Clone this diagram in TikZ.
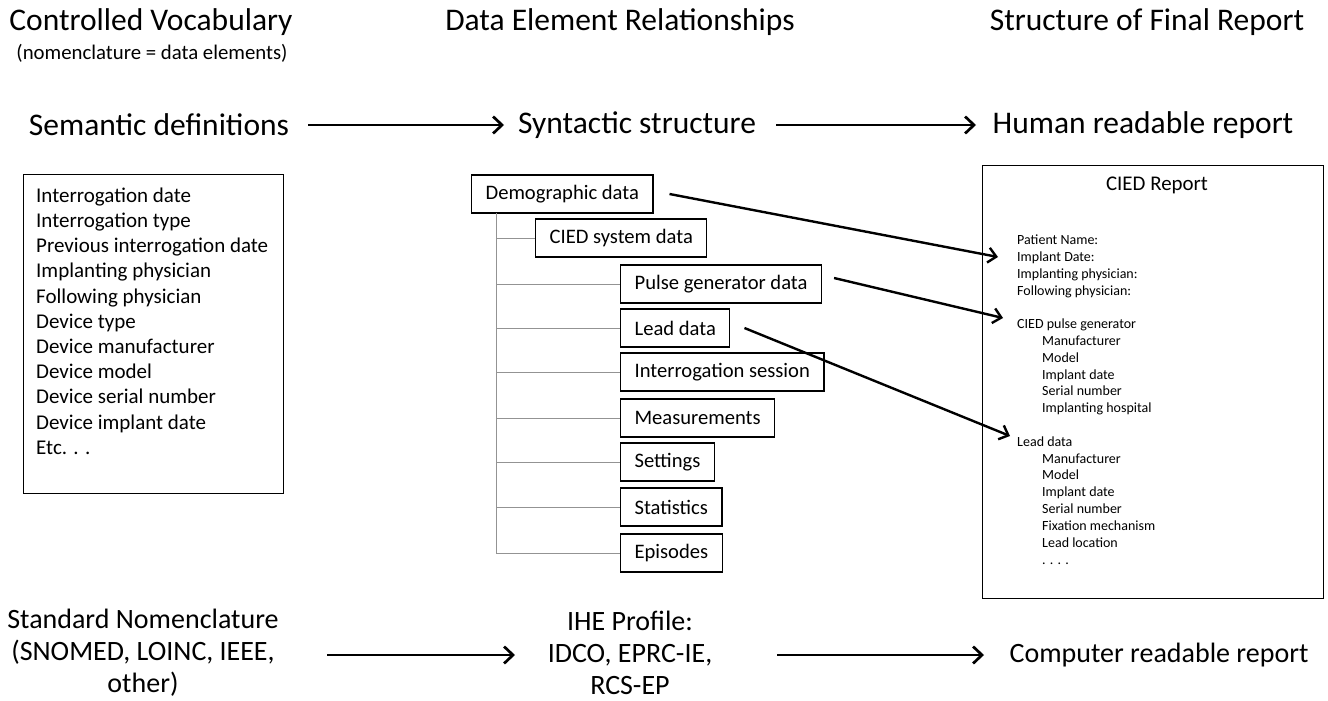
\documentclass[tikz,border=0pt]{standalone}
\usepackage{fontspec}
\setmainfont{Carlito}
\usetikzlibrary{arrows.meta}

\tikzset{
  big/.style={font=\fontsize{31.5}{34}\selectfont, inner sep=0pt, align=center},
  lower/.style={font=\fontsize{28}{32}\selectfont, inner sep=0pt, align=center},
  small/.style={font=\fontsize{20.8}{24}\selectfont, inner sep=0pt},
  flow/.style={line width=2.7pt, -{Straight Barb[length=9pt,width=17pt,line width=2.7pt]}},
  link/.style={line width=2.4pt, -{Straight Barb[length=8pt,width=15pt,line width=2.4pt]}},
  treebox/.style={draw, line width=1.2pt, anchor=west, minimum height=38pt, inner xsep=14pt,
                  font=\fontsize{20.6}{24}\selectfont},
  branch/.style={draw=gray!85, line width=1pt},
  panel/.style={draw, line width=1.2pt, anchor=north west},
  rline/.style={anchor=base west, inner sep=0pt, font=\fontsize{14}{16}\selectfont},
}

\begin{document}
\begin{tikzpicture}[x=1pt, y=-1pt]
\useasboundingbox (0,0) rectangle (1328,701);

% column headings
\node[big] (hVocab) at (151,22) {Controlled Vocabulary};
\node[small] (hNom) at (152,53) {(nomenclature = data elements)};
\node[big] (hRel) at (620,22) {Data Element Relationships};
\node[big] (hFinal) at (1147,22) {Structure of Final Report};

% semantic / syntactic / human readable row
\node[big] (sem) at (159,125) {Semantic definitions};
\node[big] (syn) at (637,125) {Syntactic structure};
\node[big] (hum) at (1143,125) {Human readable report};
\coordinate (f1s) at (308,125);
\coordinate (f1e) at (504,125);
\coordinate (f2s) at (776,125);
\coordinate (f2e) at (976,125);
\draw[flow] (f1s) -- (f1e);
\draw[flow] (f2s) -- (f2e);

% vocabulary list
\node[panel, minimum width=260pt, minimum height=319pt] (vocab) at (23,174) {};
\node[anchor=north west, inner sep=0pt, align=left, font=\fontsize{21}{25.2}\selectfont]
  (vocabtext) at (36,187.5) {Interrogation date\\Interrogation type\\Previous interrogation date\\
  Implanting physician\\Following physician\\Device type\\Device manufacturer\\Device model\\
  Device serial number\\Device implant date\\Etc. . .};

% data element tree
\node[treebox] (dem) at (471,194) {Demographic data};
\node[treebox] (sys) at (535,238) {CIED system data};
\node[treebox] (pg)  at (620,284) {Pulse generator data};
\node[treebox] (lead) at (620,328) {Lead data};
\node[treebox] (sess) at (620,372) {Interrogation session};
\node[treebox] (meas) at (620,418) {Measurements};
\node[treebox] (set) at (620,462) {Settings};
\node[treebox] (stat) at (620,507) {Statistics};
\node[treebox] (epi) at (620,553) {Episodes};

\coordinate (trunkTop) at (496,213);
\coordinate (trunkEnd) at (496,553);
\draw[branch] (trunkTop) -- (trunkEnd) -- (epi.west);
\foreach \b in {sys,pg,lead,sess,meas,set,stat}
  \draw[branch] (trunkTop |- \b.west) -- (\b.west);

% final report
\node[panel, minimum width=341pt, minimum height=433pt] (report) at (982,165) {};
\node[inner sep=0pt, font=\fontsize{20.9}{24}\selectfont] (rTitle) at (1157,185) {CIED Report};
\foreach \n/\y/\x/\t in {
  1/244/1017/Patient Name:, 2/261/1017/Implant Date:, 3/278/1017/Implanting physician:,
  4/295/1017/Following physician:, 5/328/1017/CIED pulse generator, 6/345/1042/Manufacturer,
  7/362/1042/Model, 8/379/1042/Implant date, 9/395/1042/Serial number,
  10/412/1042/Implanting hospital, 11/446/1017/Lead data, 12/463/1042/Manufacturer,
  13/479/1042/Model, 14/496/1042/Implant date, 15/513/1042/Serial number,
  16/530/1042/Fixation mechanism, 17/547/1042/Lead location, 18/564/1042/. . . .}
  \node[rline] (r\n) at (\x,\y) {\t};

\draw[link] ([xshift=16pt]dem.east) -- ([xshift=-19pt,yshift=4pt]r2.base west);
\draw[link] ([xshift=12pt,yshift=6pt]pg.east) -- ([xshift=-14pt,yshift=10pt]r5.base west);
\draw[link] ([xshift=14pt]lead.east) -- ([xshift=-7pt,yshift=10pt]r11.base west);

% bottom row
\node[lower] (std) at (143,653) {Standard Nomenclature\\(SNOMED, LOINC, IEEE,\\other)};
\node[lower] (ihe) at (630,653) {IHE Profile:\\IDCO, EPRC-IE,\\RCS-EP};
\node[lower] (comp) at (1159,655) {Computer readable report};
\coordinate (a1s) at (327,655);
\coordinate (a1e) at (515,655);
\coordinate (a2s) at (777,655);
\coordinate (a2e) at (984,655);
\draw[flow] (a1s) -- (a1e);
\draw[flow] (a2s) -- (a2e);
\end{tikzpicture}
\end{document}
